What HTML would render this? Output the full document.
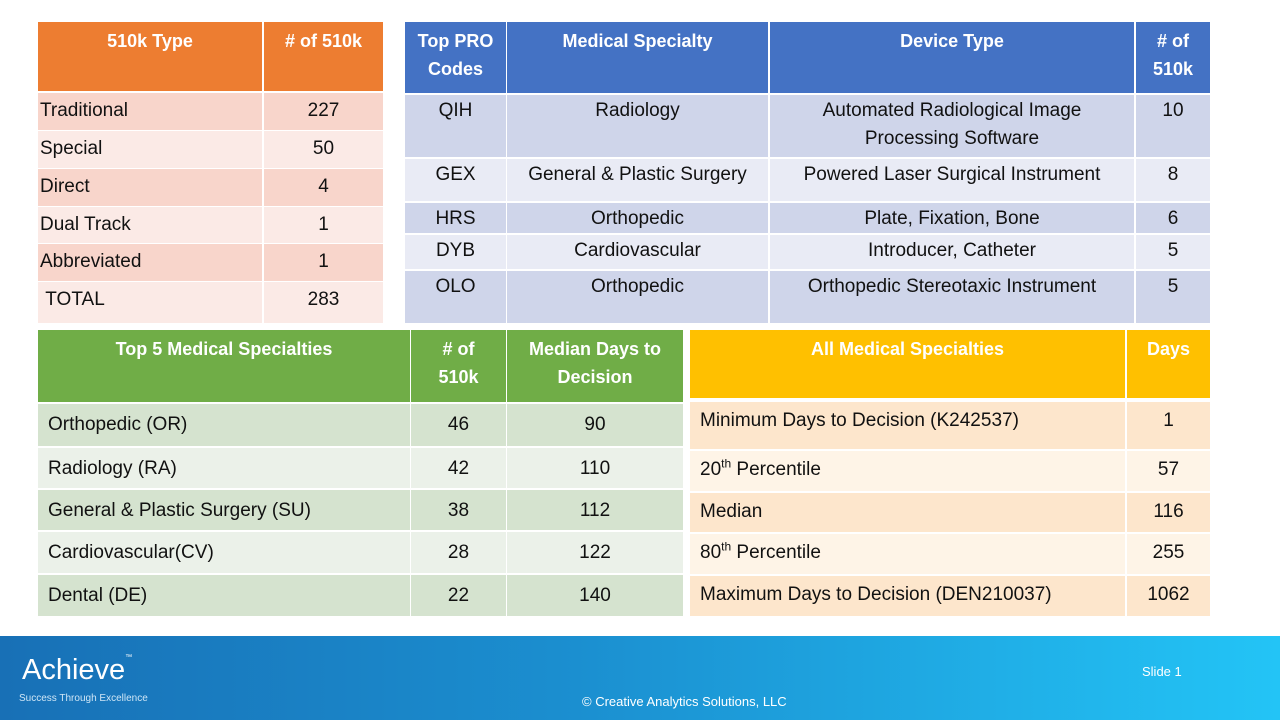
<!DOCTYPE html>
<html><head><meta charset="utf-8">
<style>
body{margin:0;width:1280px;height:720px;position:relative;background:#fff;overflow:hidden;font-family:"Liberation Sans",Arial,sans-serif;}
.c{position:absolute;box-sizing:border-box;padding:0 4px;color:#111;font-size:19px;line-height:28px;overflow:hidden;white-space:nowrap}
.h{color:#fff;font-weight:bold;font-size:18px;}
sup{line-height:0;font-size:12px}
#footer{position:absolute;left:0;top:636px;width:1280px;height:84px;background:linear-gradient(90deg,#1870b6 0%,#1b8fd0 45%,#23c4f6 100%);}
</style></head><body>
<div id="footer">
  <div style="position:absolute;left:22px;top:18px;color:#fff;font-size:29px;">Achieve<span style="font-size:7px;vertical-align:top">™</span></div>
  <div style="position:absolute;left:19px;top:57px;color:#cfe6f6;font-size:10px;">Success Through Excellence</div>
  <div style="position:absolute;left:1142px;top:28px;color:#fff;font-size:13px;">Slide 1</div>
  <div style="position:absolute;left:582px;top:58px;color:#fff;font-size:13px;">© Creative Analytics Solutions, LLC</div>
</div>
<script>
function cell(x,y,w,h,bg,html,align,hdr,pt,name,pl){
  var d=document.createElement('div');
  d.className='c'+(hdr?' h':'');
  d.style.left=x+'px';d.style.top=y+'px';d.style.width=w+'px';d.style.height=h+'px';
  d.style.background=bg;d.style.textAlign=align;d.style.paddingTop=pt+'px';
  if(pl!==undefined) d.style.paddingLeft=pl+'px';
  if(hdr) d.style.whiteSpace='normal';
  d.innerHTML=html;
  
  
  document.body.appendChild(d);
}
// Table 1
var t1Types=['Traditional','Special','Direct','Dual Track','Abbreviated','&nbsp;TOTAL'];
var t1Counts=['227','50','4','1','1','283'];
var t1Rows=[[93,37],[131,37],[169,37],[207,36],[244,37],[282,41]];
cell(38,22,224,69,'#ED7D31','510k Type','center',1,5,'type-header');
cell(264,22,119,69,'#ED7D31','# of 510k','center',1,5,'count-header');
for(var i=0;i<t1Types.length;i++){var bg=i%2?'#FBEAE6':'#F8D5CB';
 cell(38,t1Rows[i][0],224,t1Rows[i][1],bg,t1Types[i],'left',0,4,'type-cell',2);
 cell(264,t1Rows[i][0],119,t1Rows[i][1],bg,t1Counts[i],'center',0,4,'count-cell');}
// Table 2
var t2Codes=['QIH','GEX','HRS','DYB','OLO'];
var t2Spec=['Radiology','General &amp; Plastic Surgery','Orthopedic','Cardiovascular','Orthopedic'];
var t2Dev=['Automated Radiological Image<br>Processing Software','Powered Laser Surgical Instrument','Plate, Fixation, Bone','Introducer, Catheter','Orthopedic Stereotaxic Instrument'];
var t2N=['10','8','6','5','5'];
var t2Rows=[[95,62],[159,42],[203,30],[235,34],[271,52]];
var cx=[[405,101],[507,261],[770,364],[1136,74]];
var hd=['Top PRO<br>Codes','Medical Specialty','Device Type','# of<br>510k'];
for(var j=0;j<4;j++) cell(cx[j][0],22,cx[j][1],71,'#4472C4',hd[j],'center',1,5,'pro-header');
for(var i=0;i<5;i++){var bg=i%2?'#E9EBF5':'#CFD5EA';var v=[t2Codes[i],t2Spec[i],t2Dev[i],t2N[i]];
 for(var j=0;j<4;j++) cell(cx[j][0],t2Rows[i][0],cx[j][1],t2Rows[i][1],bg,v[j],'center',0,2,'pro-cell');}
// Table 3
var t3Spec=['Orthopedic (OR)','Radiology (RA)','General &amp; Plastic Surgery (SU)','Cardiovascular(CV)','Dental (DE)'];
var t3N=['46','42','38','28','22'];
var t3Med=['90','110','112','122','140'];
var t3Rows=[[404,42],[448,40],[490,40],[532,41],[575,41]];
var c3=[[38,372],[411,95],[507,176]];
var h3=['Top 5 Medical Specialties','# of<br>510k','Median Days to<br>Decision'];
for(var j=0;j<3;j++) cell(c3[j][0],330,c3[j][1],72,'#70AD47',h3[j],'center',1,5,'spec-header');
for(var i=0;i<5;i++){var bg=i%2?'#EBF1E9':'#D5E3CF';var v=[t3Spec[i],t3N[i],t3Med[i]];
 for(var j=0;j<3;j++) cell(c3[j][0],t3Rows[i][0],c3[j][1],t3Rows[i][1],bg,v[j],j?'center':'left',0,7,'spec-cell',j?4:10);}
// Table 4
var t4Lab=['Minimum Days to Decision (K242537)','20<sup>th</sup> Percentile','Median','80<sup>th</sup> Percentile','Maximum Days to Decision (DEN210037)'];
var t4Days=['1','57','116','255','1062'];
var t4Rows=[[402,47],[451,40],[493,39],[534,40],[576,40]];
cell(690,330,435,68,'#FFC000','All Medical Specialties','center',1,5,'all-header');
cell(1127,330,83,68,'#FFC000','Days','center',1,5,'days-header');
for(var i=0;i<5;i++){var bg=i%2?'#FEF4E7':'#FDE6CC';
 cell(690,t4Rows[i][0],435,t4Rows[i][1],bg,t4Lab[i],'left',0,5,'stat-label',10);
 cell(1127,t4Rows[i][0],83,t4Rows[i][1],bg,t4Days[i],'center',0,5,'stat-days');}
</script>
</body></html>
